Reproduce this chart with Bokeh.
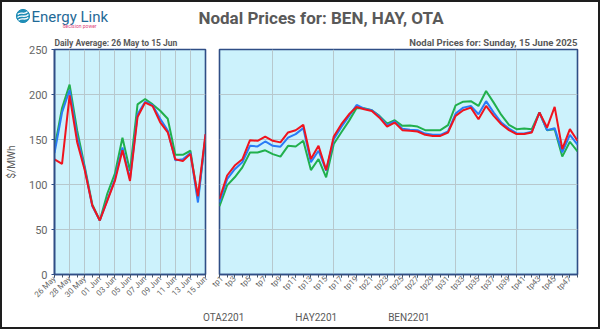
import numpy as np
from bokeh.plotting import figure
from bokeh.models import Range1d, FixedTicker, Legend, LegendItem
from bokeh.layouts import column, row
from bokeh.embed import file_html
from bokeh.resources import INLINE
from bokeh.core.properties import value

# ---------------- data ----------------
days = ["26 May", "27 May", "28 May", "29 May", "30 May", "31 May", "01 Jun",
        "02 Jun", "03 Jun", "04 Jun", "05 Jun", "06 Jun", "07 Jun", "08 Jun",
        "09 Jun", "10 Jun", "11 Jun", "12 Jun", "13 Jun", "14 Jun", "15 Jun"]
ota_daily = [140, 185, 211, 160, 120, 78, 60, 90, 112, 152, 115, 189, 195, 189,
             182, 173, 133, 133, 137.5, 84, 152]
hay_daily = [135, 180, 205, 153, 118, 76, 60, 83, 106, 141, 106, 178, 192, 188,
             173, 160, 127, 128, 135, 80, 155]
ben_daily = [128, 123, 199, 147, 116, 77, 60, 82, 104, 138, 104, 175, 191, 187,
             169, 158, 128, 126, 134, 87, 156]

periods = list(range(1, 49))
period_labels = ["tp%d" % k for k in periods]
ota_tp = [76, 99, 108, 119, 135.6, 135.6, 138, 133.8, 131, 143, 142.3, 148.6,
          116, 128.3, 108, 145, 158, 170.7, 185, 184.7, 182.5, 176.3, 167.7, 171.4,
          165.2, 165.5, 164.4, 160.4, 160.4, 160.4, 166, 188, 192, 192.6, 187.3, 203.9,
          191, 177.3, 166.3, 161.5, 162.2, 161.5, 180, 160.4, 161.5, 131, 147.5, 136.7]
hay_tp = [80, 106, 117, 124.7, 143, 142.3, 147.8, 143, 142, 152, 156, 162.6,
          124.7, 137.5, 115.4, 150.4, 164, 176, 188.4, 184.3, 182.5, 175.5, 166, 170,
          162, 160.9, 160.3, 156.6, 155.2, 155.2, 159, 178.8, 185.4, 187.2, 178, 192.6,
          179.9, 168.8, 162.2, 157, 156.6, 158.5, 180, 160.4, 162.6, 135.7, 155.2, 144.2]
ben_tp = [84, 110, 121, 128, 149.3, 148.6, 153.3, 148.6, 146.8, 157.8, 160.3, 166.3,
          128.3, 143, 116, 153.3, 167, 178, 186.2, 183.6, 181.7, 174.3, 164.4, 168.8,
          160.4, 159.6, 158.9, 155.2, 154, 154, 157.8, 176.3, 182.5, 185.4, 172.5, 187.3,
          176.2, 167, 160.4, 156, 156, 157.8, 180, 163.3, 186.2, 139.4, 161.5, 148.6]

series_names = ["OTA2201", "HAY2201", "BEN2201"]
series_colors = ["#21B04D", "#2A7BF6", "#F0141E"]
y_ticks = [0, 50, 100, 150, 200, 250]

title_text = "Nodal Prices for: BEN, HAY, OTA"
left_sub = "Daily Average: 26 May to 15 Jun"
right_sub = "Nodal Prices for: Sunday, 15 June 2025"

# ---------------- style ----------------
FONT = "Roboto"
GRAY = "#595959"
TICKGRAY = "#666666"
FRAME = "#2F4E86"
PLOTBG = "#CCF2FC"
GRID = "#B7C8CD"

# ---------------- header ----------------
hdr = figure(width=596, height=31, x_range=Range1d(2, 598), y_range=Range1d(33, 2),
             toolbar_location=None, output_backend="svg", min_border=0,
             x_axis_location=None, y_axis_location=None, margin=(2, 2, 0, 2))
hdr.grid.visible = False
hdr.outline_line_color = None
hdr.circle(x=[22.5], y=[15.5], radius=6.6, color="#1F8DB6")
hdr.bezier(x0=[17.2, 17.0, 18.0], y0=[14.0, 17.0, 19.8],
           x1=[27.0, 28.0, 27.8], y1=[11.2, 14.0, 17.0],
           cx0=[20.0, 20.0, 21.0], cy0=[10.5, 13.5, 16.5],
           cx1=[23.5, 24.5, 24.5], cy1=[15.0, 18.0, 20.5],
           line_color="white", line_width=1.3)
hdr.text(x=[31], y=[16], text=["Energy Link"], text_font=value(FONT),
         text_font_size="15px", text_color="#1F6A97", text_baseline="middle")
hdr.text(x=[96], y=[25.5], text=["decision power"], text_font=value(FONT),
         text_font_size="5px", text_color="#E0457B", text_baseline="middle",
         text_align="right")
hdr.text(x=[320.5], y=[17.5], text=[title_text], text_font=value(FONT),
         text_font_size="17px", text_font_style="bold", text_color=GRAY,
         text_baseline="middle", text_align="center")


def style_chart(p, sub, align, sub_size):
    p.background_fill_color = PLOTBG
    p.border_fill_color = "white"
    p.border_fill_alpha = 1
    p.outline_line_color = FRAME
    p.outline_line_width = 1.6
    p.grid.grid_line_color = GRID
    p.grid.grid_line_width = 1
    p.title.text = sub
    p.title.align = align
    p.title.text_font = FONT
    p.title.text_font_size = sub_size
    p.title.text_font_style = "bold"
    p.title.text_color = GRAY
    p.title.standoff = 3
    p.title.offset = 0
    for ax in p.xaxis:
        ax.axis_line_color = FRAME
        ax.axis_line_width = 1.6
        ax.major_tick_line_color = "#44546A"
        ax.minor_tick_line_color = "#44546A"
        ax.major_tick_out = 3
        ax.major_tick_in = 0
        ax.minor_tick_out = 3
        ax.minor_tick_in = 0
        ax.major_label_orientation = np.pi / 4
        ax.major_label_text_font = FONT
        ax.major_label_text_font_size = "8px"
        ax.major_label_text_color = TICKGRAY
        ax.major_label_standoff = 0


# ---------------- left chart ----------------
idx = list(range(len(days)))
left = figure(width=208, height=274, x_range=Range1d(0, len(days) - 1),
              y_range=Range1d(0, 250), toolbar_location=None, output_backend="svg",
              min_border_left=50, min_border_right=5, min_border_top=15,
              min_border_bottom=33, styles={"clip-path": "inset(0px 1px 0px 0px)"})
style_chart(left, left_sub, "left", "8.5px")
left.xaxis.ticker = FixedTicker(ticks=idx[::2], minor_ticks=idx)
left.xaxis.major_label_overrides = {i: days[i] for i in idx[::2]}
left.xgrid.ticker = FixedTicker(ticks=idx[::2])
left.yaxis.ticker = FixedTicker(ticks=y_ticks, minor_ticks=[])
left.ygrid.ticker = FixedTicker(ticks=y_ticks)
left.yaxis.axis_line_color = FRAME
left.yaxis.axis_line_width = 1.6
left.yaxis.major_tick_out = 3
left.yaxis.major_tick_in = 0
left.yaxis.major_tick_line_color = FRAME
left.yaxis.major_label_text_font = FONT
left.yaxis.major_label_text_font_size = "11px"
left.yaxis.major_label_text_color = TICKGRAY
left.yaxis.major_label_standoff = 4
left.yaxis.axis_label = "$/MWh"
left.yaxis.axis_label_text_font = FONT
left.yaxis.axis_label_text_font_size = "10px"
left.yaxis.axis_label_text_font_style = "normal"
left.yaxis.axis_label_text_color = GRAY
left.yaxis.axis_label_standoff = 9

for vals, col in zip([ota_daily, hay_daily, ben_daily], series_colors):
    left.line(idx, vals, line_color=col, line_width=2)

# ---------------- right chart ----------------
right = figure(width=388, height=274, x_range=Range1d(1, 48), y_range=Range1d(0, 250),
               toolbar_location=None, output_backend="svg", y_axis_location=None,
               min_border_left=9, min_border_right=21, min_border_top=15,
               min_border_bottom=33, styles={"clip-path": "inset(0px 0px 0px 1px)"})
style_chart(right, right_sub, "right", "9.5px")
right.xaxis.ticker = FixedTicker(ticks=periods[::2], minor_ticks=periods)
right.xaxis.major_label_overrides = {k: period_labels[k - 1] for k in periods[::2]}
right.xgrid.ticker = FixedTicker(ticks=[8, 16, 24, 32, 40, 48])
right.ygrid.ticker = FixedTicker(ticks=y_ticks)

for vals, col in zip([ota_tp, hay_tp, ben_tp], series_colors):
    right.line(periods, vals, line_color=col, line_width=2)

# ---------------- legend ----------------
lg = figure(width=596, height=20, x_range=Range1d(0, 1), y_range=Range1d(0, 1),
            toolbar_location=None, output_backend="svg", min_border=0,
            x_axis_location=None, y_axis_location=None, margin=(0, 2, 2, 2))
lg.grid.visible = False
lg.outline_line_color = None
items = []
for name, col in zip(series_names, series_colors):
    r = lg.line([], [], line_color=col, line_width=2.5)
    items.append(LegendItem(label=name, renderers=[r]))
legend = Legend(items=items, orientation="horizontal", location=(178, 0), padding=0,
                margin=0, spacing=28, glyph_width=20, glyph_height=20, label_standoff=3,
                label_text_font=FONT, label_text_font_size="10px",
                label_text_color=GRAY, border_line_alpha=0, background_fill_alpha=0,
                label_height=20)
lg.add_layout(legend)

layout = column(hdr,
                row(left, right, margin=(0, 2, 0, 2), styles={"background-color": "white"}),
                lg,
                styles={"background-color": "white",
                        "outline": "2px solid #1E1E1E",
                        "outline-offset": "-2px"})

open("out.html", "w").write(file_html(layout, INLINE))
